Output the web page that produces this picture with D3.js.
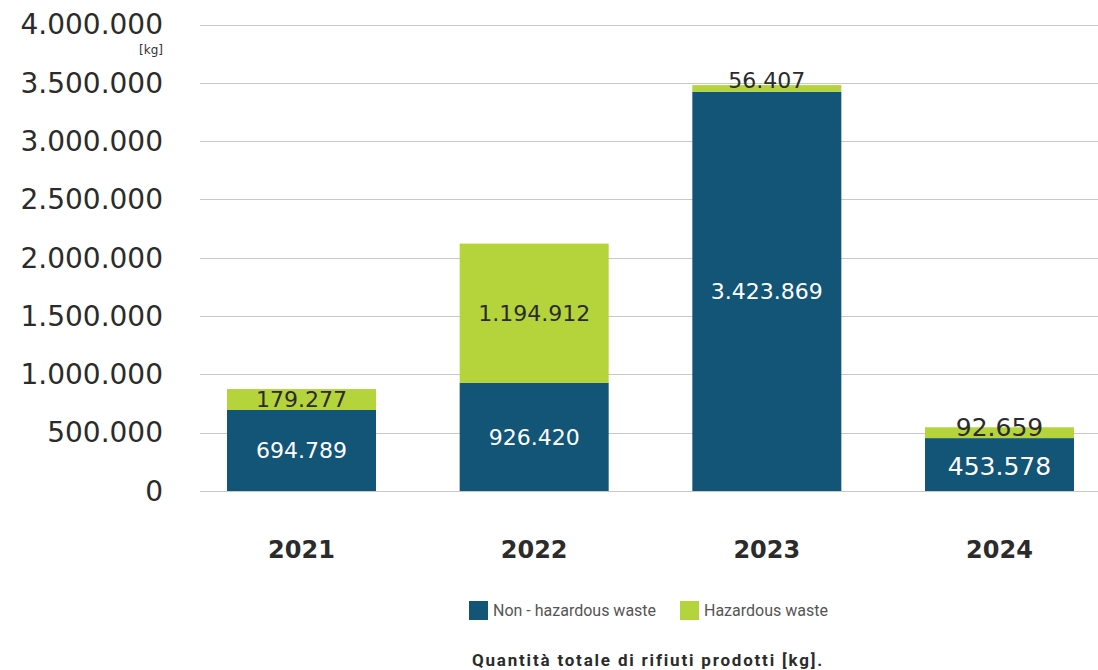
<!DOCTYPE html>
<html><head><meta charset="utf-8">
<script src="https://cdn.jsdelivr.net/npm/d3@7"></script>
<style>body{margin:0;background:#fff}svg{display:block}</style>
</head><body>
<svg id="c" width="1098" height="670"></svg>
<script>
const years = ["2021","2022","2023","2024"];
const nonHazardous = [694789, 926420, 3423869, 453578];
const hazardous = [179277, 1194912, 56407, 92659];
const yTicks = [0, 500000, 1000000, 1500000, 2000000, 2500000, 3000000, 3500000, 4000000];
const seriesNames = ["Non - hazardous waste", "Hazardous waste"];
const colors = ["#135577", "#b5d43b"];
const title = "Quantità totale di rifiuti prodotti [kg].";

const svg = d3.select("#c");
const fmt = v => d3.format(",")(v).replace(/,/g, ".");
const y = d3.scaleLinear().domain([0, 4000000]).range([491, 24.5]);
const x = d3.scalePoint().domain(years).range([301.5, 999.5]);
const bw = 149;

// grid
svg.append("g").selectAll("line").data(yTicks).join("line")
  .attr("x1", 200).attr("x2", 1098)
  .attr("y1", d => Math.round(y(d)) + 0.5).attr("y2", d => Math.round(y(d)) + 0.5)
  .attr("stroke", "#c8c8c8").attr("stroke-width", 1);

// y axis labels
const yAxis = d3.axisLeft(y).tickValues(yTicks).tickFormat(fmt).tickSize(0).tickPadding(0);
const ga = svg.append("g").attr("transform", "translate(163,0)").call(yAxis);
ga.select(".domain").remove();
ga.selectAll("text").attr("font-family", "DejaVu Sans").attr("font-size", 28).attr("fill", "#2b2b2b").attr("dy", "0.33em");
svg.append("text").attr("x", 163).attr("y", 54).attr("text-anchor", "end")
  .attr("font-family", "DejaVu Sans").attr("font-size", 12).attr("fill", "#333").text("[kg]");

// stacked data
const rows = years.map((yr, i) => ({year: yr, a: nonHazardous[i], b: hazardous[i]}));
const stack = d3.stack().keys(["a", "b"])(rows);
stack.forEach((s, si) => {
  svg.append("g").selectAll("rect").data(s).join("rect")
    .attr("x", d => x(d.data.year) - bw / 2).attr("width", bw)
    .attr("y", d => y(d[1])).attr("height", d => y(d[0]) - y(d[1]))
    .attr("fill", colors[si]);
});
// labels
stack.forEach((s, si) => {
  svg.append("g").selectAll("text").data(s).join("text")
    .attr("x", d => x(d.data.year))
    .attr("y", d => {
      let c = (y(d[0]) + y(d[1])) / 2;
      if (si === 1 && d.data.year === "2023") c -= 8;
      if (si === 1 && d.data.year === "2024") c -= 6;
      if (si === 0 && d.data.year === "2024") c += 1;
      return c;
    })
    .attr("dy", "0.36em").attr("text-anchor", "middle")
    .attr("font-family", "DejaVu Sans")
    .attr("font-size", d => d.data.year === "2024" ? 25 : 22)
    .attr("fill", si === 0 ? "#ffffff" : "#2b2b2b")
    .text(d => fmt(d.data[si === 0 ? "a" : "b"]));
});

// x labels
svg.append("g").selectAll("text").data(years).join("text")
  .attr("x", d => x(d)).attr("y", 558).attr("text-anchor", "middle")
  .attr("font-family", "DejaVu Sans").attr("font-weight", "bold").attr("font-size", 24)
  .attr("fill", "#2b2b2b").text(d => d);

// legend
const legX = [469, 680];
seriesNames.forEach((n, i) => {
  svg.append("rect").attr("x", legX[i]).attr("y", 601).attr("width", 19).attr("height", 19).attr("fill", colors[i]);
  svg.append("text").attr("x", legX[i] + 24).attr("y", 616)
    .attr("font-family", "Roboto").attr("font-size", 16).attr("fill", "#555").text(n);
});

// title
svg.append("text").attr("x", 648).attr("y", 666).attr("text-anchor", "middle")
  .attr("font-family", "Roboto").attr("font-weight", "bold").attr("font-size", 17)
  .attr("letter-spacing", 1.8).attr("fill", "#2b2b2b").text(title);
</script>
</body></html>
